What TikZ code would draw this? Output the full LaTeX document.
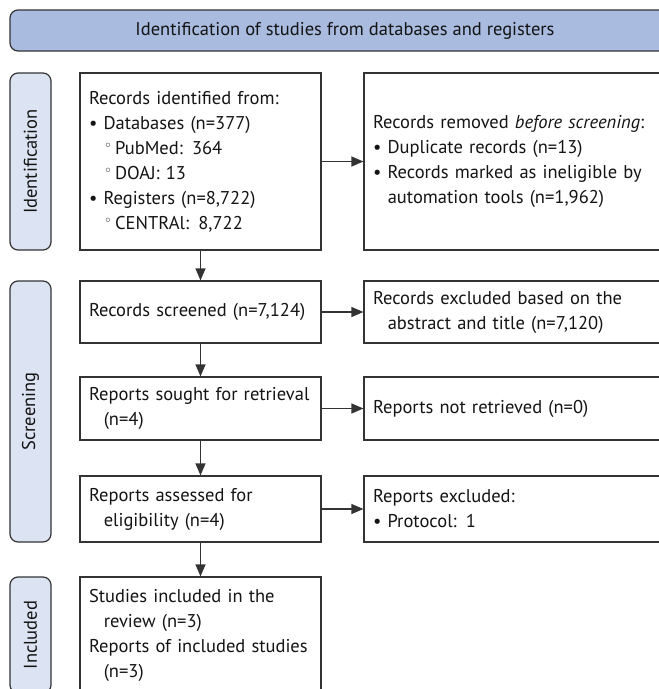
\documentclass[tikz,border=0pt]{standalone}
\usepackage{fontspec}
\setmainfont{PT Sans}
\newfontfamily\symfont{DejaVu Sans}
\usetikzlibrary{arrows.meta}
\definecolor{headblue}{HTML}{A9BBDF}
\definecolor{sideblue}{HTML}{DCE3F2}
\definecolor{edgegray}{HTML}{333333}
\newcommand{\bul}{\textbullet\ }
\newcommand{\subbul}{\raisebox{0.35ex}{\symfont\fontsize{14}{14}\selectfont\char"25E6}\,}
\newcommand{\hang}{\hspace*{0.8em}}
\begin{document}
\begin{tikzpicture}[x=1pt,y=-1pt,
  every node/.style={font=\fontsize{18.5}{25}\selectfont, text=black!92},
  box/.style={draw=edgegray, line width=1.2pt, fill=white, align=left,
    inner xsep=9pt, inner ysep=0pt, text width=223pt},
  rbox/.style={box, text width=308pt},
  sidebar/.style={draw=edgegray, line width=1.2pt, fill=sideblue, rounded corners=8pt,
    rotate=90, minimum height=41pt, inner sep=0pt},
  arr/.style={draw=edgegray, line width=1.2pt, -{Triangle[length=12pt,width=10pt]}}]
\path[use as bounding box, clip] (0,0) rectangle (659,689);

% Header bar
\node[draw=edgegray, line width=1.2pt, fill=headblue, rounded corners=8pt,
  minimum width=670pt, minimum height=41pt] (head) at (345,30.5)
  {Identification of studies from databases and registers};

% Phase bars on the left
\node[sidebar, minimum width=177pt] (ident) at (30.5,161.5) {Identification};
\node[sidebar, minimum width=261pt] (screen) at (30.5,411.5) {Screening};
\node[sidebar, minimum width=116pt] (incl) at (30.5,635) {Included};

% Main column
\node[box, minimum height=177pt] (found) at (200.5,161.5)
  {Records identified from:\\
   \bul Databases (n=377)\\
   \hang\subbul PubMed: 364\\
   \hang\subbul DOAJ: 13\\
   \bul Registers (n=8,722)\\
   \hang\subbul CENTRAl: 8,722};
\node[box, minimum height=62pt] (screened) at (200.5,312)
  {Records screened (n=7,124)};
\node[box, minimum height=63pt] (sought) at (200.5,408.5)
  {Reports sought for retrieval\\ \hang(n=4)};
\node[box, minimum height=66pt] (assessed) at (200.5,509)
  {Reports assessed for\\ \hang eligibility (n=4)};
\node[box, minimum height=116pt] (included) at (200.5,635)
  {Studies included in the\\ \hang review (n=3)\\
   Reports of included studies\\ \hang(n=3)};

% Right column (runs past the edge)
\node[rbox, minimum height=177pt] (removed) at (527,161.5)
  {Records removed \textit{before screening}:\\
   \bul Duplicate records (n=13)\\
   \bul Records marked as ineligible by\\
   \hang automation tools (n=1,962)};
\node[rbox, minimum height=62pt] (excluded) at (527,312)
  {Records excluded based on the\\ \hang abstract and title (n=7,120)};
\node[rbox, minimum height=63pt] (notret) at (527,408.5)
  {Reports not retrieved (n=0)};
\node[rbox, minimum height=66pt] (repexcl) at (527,509)
  {Reports excluded:\\ \bul Protocol: 1};

% Arrows down the main column
\draw[arr] (found) -- (screened);
\draw[arr] (screened) -- (sought);
\draw[arr] (sought) -- (assessed);
\draw[arr] (assessed) -- (included);

% Arrows to the right
\draw[arr] (found) -- (removed);
\draw[arr] (screened) -- (excluded);
\draw[arr] (sought) -- (notret);
\draw[arr] (assessed) -- (repexcl);
\end{tikzpicture}
\end{document}
